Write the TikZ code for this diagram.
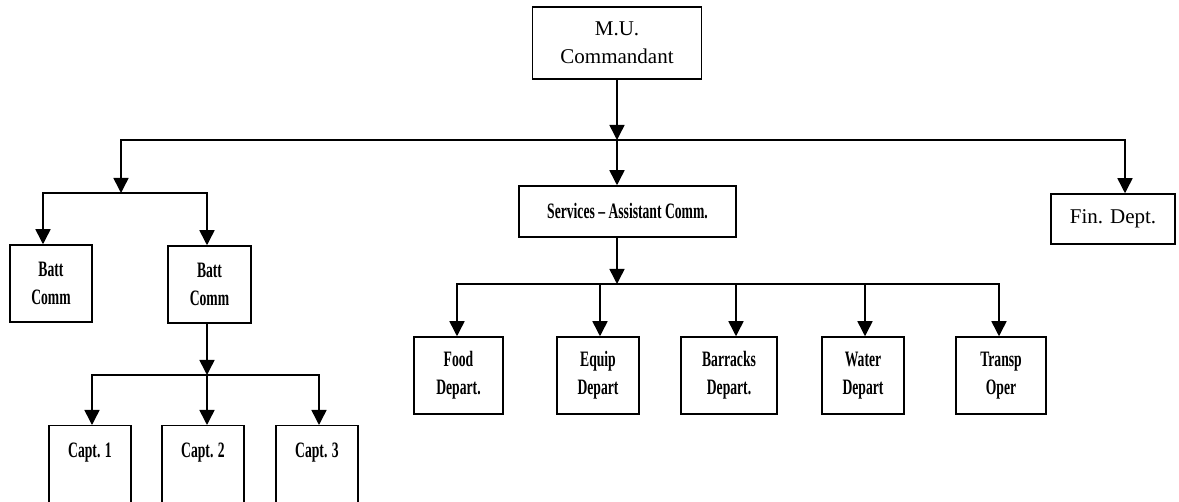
\documentclass[tikz,border=0pt]{standalone}
\usepackage{fontspec}
\setmainfont{Liberation Serif}
\newfontfamily\condfont{Liberation Serif}[FakeStretch=0.62]
\usetikzlibrary{arrows.meta}
\usetikzlibrary{positioning}

\begin{document}
\begin{tikzpicture}[x=1pt,y=-1pt,line cap=rect,
    box/.style={draw,line width=1.5pt,rectangle,inner sep=0pt,align=center,
      font=\fontsize{21}{28}\selectfont},
    cbox/.style={box,minimum height=77pt,
      font=\condfont\bfseries\fontsize{22}{28}\selectfont},
    capt/.style={cbox,minimum width=82pt,anchor=north,
      text height=14pt,text depth=50pt,inner ysep=18pt},
    bus/.style={draw,line width=1.5pt},
    arr/.style={bus,-{Triangle[length=15pt,width=15pt]}}]

  \useasboundingbox (0,0) rectangle (1179,502);
  \clip (0,0) rectangle (1179,502);

  % top
  \node [box,minimum width=169pt,minimum height=72pt] (mu) at (617,43) {M.U.\\Commandant};
  \node [cbox,minimum width=217pt,minimum height=51pt] (svc) at (627.5,211.5) {Services \textendash{} Assistant Comm.};
  \node [box,minimum width=124pt,minimum height=50pt] (fin) at (1113,219) {Fin. Dept.};

  % batteries
  \node [cbox,minimum width=82pt] (batt1) at (51,283.5) {Batt\\Comm};
  \node [cbox,minimum width=83pt] (batt2) at (209.5,284.5) {Batt\\Comm};

  \node [capt] (capt1) at (90,425) {Capt. 1};
  \node [capt] (capt2) at (203,425) {Capt. 2};
  \node [capt] (capt3) at (317,425) {Capt. 3};

  % departments
  \node [cbox,minimum width=89pt] (food) at (458.5,375.5) {Food\\Depart.};
  \node [cbox,minimum width=82pt] (equip) at (598,375.5) {Equip\\Depart};
  \node [cbox,minimum width=96pt] (barr) at (729,375.5) {Barracks\\Depart.};
  \node [cbox,minimum width=82pt] (water) at (863,375.5) {Water\\Depart};
  \node [cbox,minimum width=90pt] (transp) at (1001,375.5) {Transp\\Oper};

  % junctions
  \coordinate (busL) at (121,140);
  \coordinate (busM) at (617,140);
  \coordinate (busR) at (1125,140);
  \coordinate (battL) at (43,193);
  \coordinate (battM) at (121,193);
  \coordinate (battR) at (207,193);
  \coordinate (captL) at (92,375);
  \coordinate (captM) at (207,375);
  \coordinate (captR) at (319,375);
  \coordinate (deptL) at (457,284);
  \coordinate (deptR) at (999,284);

  \path [bus] (busL) -- (busR);
  \path [arr] (mu.south) -- (mu.south |- busM);
  \path [arr] (busM) -- (busM |- svc.north);
  \path [arr] (busR) -- (busR |- fin.north);

  \path [arr] (busL) -- (battM);
  \path [bus] (battL) -- (battR);
  \path [arr] (battL) -- (battL |- batt1.north);
  \path [arr] (battR) -- (battR |- batt2.north);

  \path [arr] (captM |- batt2.south) -- (captM);
  \path [bus] (captL) -- (captR);
  \path [arr] (captL) -- (captL |- capt1.north);
  \path [arr] (captM) -- (captM |- capt2.north);
  \path [arr] (captR) -- (captR |- capt3.north);

  \path [arr] (busM |- svc.south) -- (busM |- deptL);
  \path [bus] (deptL) -- (deptR);
  \foreach \x/\n in {457/food,600/equip,736/barr,865/water,999/transp} {
    \coordinate (d\n) at (\x,284);
    \path [arr] (d\n) -- (d\n |- \n.north);
  }

\end{tikzpicture}
\end{document}
